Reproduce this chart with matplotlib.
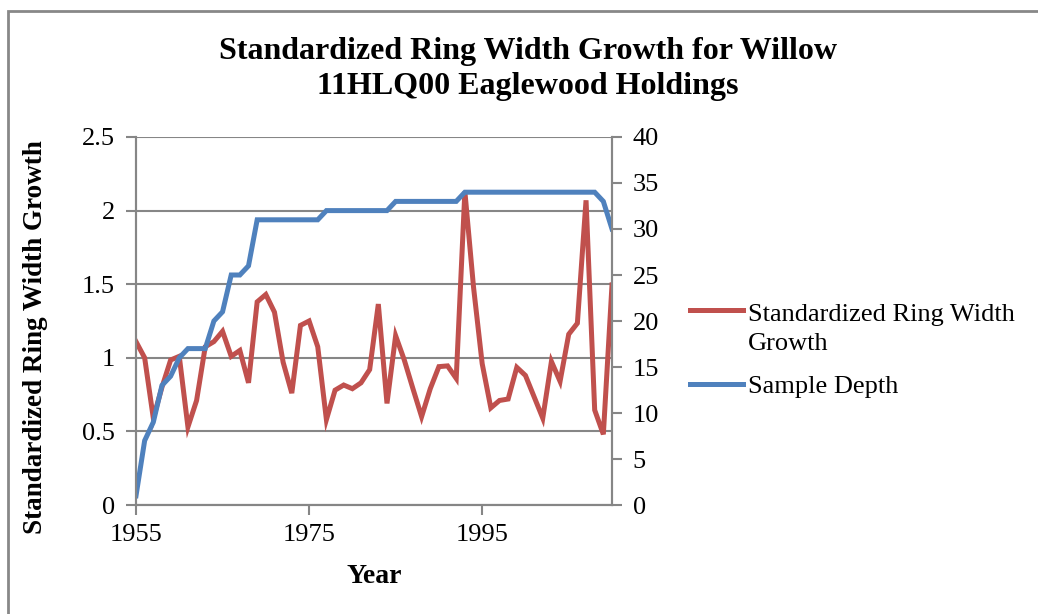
import matplotlib
matplotlib.use("Agg")
import numpy as np
import matplotlib.pyplot as plt
from matplotlib.patches import Rectangle
from matplotlib.legend_handler import HandlerLine2D

# data
years = list(range(1955, 2011))
ring_width = [
    1.11, 1.00, 0.59, 0.80, 0.985, 1.01, 0.53, 0.71, 1.075, 1.11,
    1.18, 1.01, 1.05, 0.83, 1.38, 1.43, 1.31, 0.97, 0.76, 1.22,
    1.25, 1.075, 0.58, 0.78, 0.815, 0.79, 0.83, 0.92, 1.365, 0.69,
    1.15, 0.985, 0.79, 0.60, 0.79, 0.94, 0.945, 0.86, 2.13, 1.48,
    0.96, 0.66, 0.71, 0.72, 0.935, 0.88, 0.735, 0.59, 0.975, 0.84,
    1.16, 1.235, 2.07, 0.645, 0.48, 1.495,
]
sample_depth = [
    1, 7, 9, 13, 14, 16, 17, 17, 17, 20,
    21, 25, 25, 26, 31, 31, 31, 31, 31, 31,
    31, 31, 32, 32, 32, 32, 32, 32, 32, 32,
    33, 33, 33, 33, 33, 33, 33, 33, 34, 34,
    34, 34, 34, 34, 34, 34, 34, 34, 34, 34,
    34, 34, 34, 34, 33, 30,
]
x_ticks = [1955, 1975, 1995]

RED = "#C0504D"
BLUE = "#4F81BD"
GRID = "#868686"
FS = 19
LEG_LINESPACING = 1.4


class FirstLineHandler(HandlerLine2D):
    # put the legend line next to the first line of a two-line label
    def create_artists(self, legend, orig_handle, xdescent, ydescent, width, height, fontsize, trans):
        artists = super().create_artists(legend, orig_handle, xdescent, ydescent,
                                         width, height, fontsize, trans)
        for a in artists:
            a.set_ydata(np.asarray(a.get_ydata()) + 0.5 * LEG_LINESPACING * fontsize)
        return artists


plt.rcParams.update(
    {
        "font.family": ["Liberation Serif", "DejaVu Serif"],
        "font.size": FS,
        "figure.dpi": 100,
    }
)

fig = plt.figure(figsize=(10.38, 6.14))
ax = fig.add_axes([136 / 1038, 1 - 505 / 614, (612 - 136) / 1038, (505 - 137) / 614])
ax2 = ax.twinx()

line1, = ax.plot(years, ring_width, color=RED, lw=3.6, solid_joinstyle="miter",
                 label="Standardized Ring Width\nGrowth")
line2, = ax2.plot(years, sample_depth, color=BLUE, lw=3.6, solid_joinstyle="miter",
                  label="Sample Depth")

ax.set_xlim(1955, 2010)
ax.set_ylim(0, 2.5)
ax2.set_ylim(0, 40)
ax.set_xticks(x_ticks)
ax.set_yticks([0, 0.5, 1, 1.5, 2, 2.5])
ax.set_yticklabels(["0", "0.5", "1", "1.5", "2", "2.5"])
ax2.set_yticks(range(0, 45, 5))

ax.grid(axis="y", color=GRID, lw=1.5)
ax.set_axisbelow(True)

for a in (ax, ax2):
    a.spines["top"].set_visible(False)
    for s in ("left", "right", "bottom"):
        a.spines[s].set_color(GRID)
        a.spines[s].set_linewidth(1.5)
    a.tick_params(direction="out", length=7, width=1.5, color=GRID, labelsize=FS, pad=8)
ax.tick_params(axis="x", pad=7)

ax.set_xlabel("Year", fontweight="bold", fontsize=20)
ax.set_ylabel("Standardized Ring Width Growth", fontweight="bold", fontsize=19.5)
ax.xaxis.set_label_coords(0.5, (505 - 564) / 368)
ax.yaxis.set_label_coords((48 - 136) / 476, 0.455)

fig.text(528 / 1038, 1 - 69 / 614,
         "Standardized Ring Width Growth for Willow\n11HLQ00 Eaglewood Holdings",
         ha="center", va="center", fontsize=23, fontweight="bold", linespacing=1.28)

leg = fig.legend(handles=[line1, line2], loc="center left",
                 bbox_to_anchor=(666 / 1038, 1 - 351 / 614),
                 frameon=False, fontsize=FS, handlelength=2.0, handletextpad=0.19,
                 labelspacing=0.75, handler_map={line1: FirstLineHandler()})
for t in leg.get_texts():
    t.set_linespacing(LEG_LINESPACING)

fig.patches.append(Rectangle((7.5 / 1038, -0.05), 1.1, 1 - 10.5 / 614 + 0.05,
                             transform=fig.transFigure, fill=False, ec="#888888", lw=2))

fig.savefig("out.png", dpi=100)
